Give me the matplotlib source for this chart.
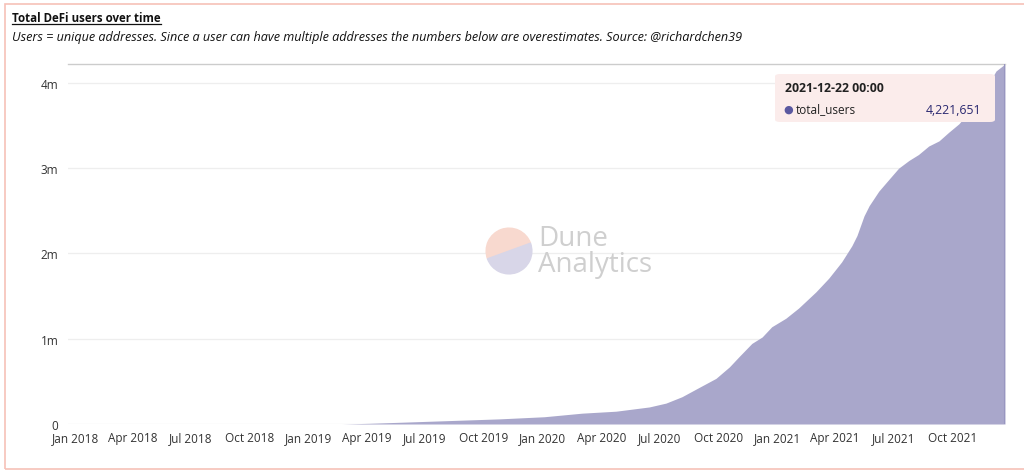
import matplotlib
matplotlib.use("Agg")
import matplotlib.pyplot as plt
import matplotlib.dates as mdates
from matplotlib.patches import Rectangle, FancyBboxPatch, Wedge
import numpy as np
import pandas as pd

plt.rcParams['font.family'] = ['Open Sans', 'DejaVu Sans']

TITLE = "Total DeFi users over time"
SUBTITLE = ("Users = unique addresses. Since a user can have multiple addresses "
            "the numbers below are overestimates. Source: @richardchen39")

# values (cumulative unique addresses)
dates = [
    "2019-02-22", "2019-04-04", "2019-05-22", "2019-08-08", "2019-10-25",
    "2020-01-03", "2020-03-02", "2020-04-24", "2020-06-15", "2020-07-11",
    "2020-08-05", "2020-09-01", "2020-09-27", "2020-10-18", "2020-11-02",
    "2020-11-22", "2020-12-08", "2020-12-23", "2021-01-14", "2021-02-03",
    "2021-03-02", "2021-03-22", "2021-04-11", "2021-04-27", "2021-05-05",
    "2021-05-16", "2021-05-24", "2021-06-08", "2021-06-24", "2021-07-09",
    "2021-07-25", "2021-08-09", "2021-08-25", "2021-09-10", "2021-09-25",
    "2021-10-11", "2021-11-11", "2021-12-08", "2021-12-22",
]
total_users = [
    0, 8000, 20000, 40000, 60000,
    85000, 127000, 150000, 200000, 245000,
    320000, 430000, 535000, 670000, 790000,
    945000, 1020000, 1140000, 1240000, 1360000,
    1550000, 1710000, 1900000, 2090000, 2210000,
    2440000, 2560000, 2730000, 2870000, 3000000,
    3090000, 3160000, 3260000, 3320000, 3420000,
    3520000, 3790000, 4140000, 4221651,
]
y_ticks = [0, 1e6, 2e6, 3e6, 4e6]
y_tick_labels = ["0", "1m", "2m", "3m", "4m"]

x = pd.to_datetime(dates)
y = np.array(total_users)

fig = plt.figure(figsize=(10.24, 4.77), dpi=100)

# card border
fig.patches.append(Rectangle((5 / 1024, 1 - 470 / 477), 1030 / 1024, 465 / 477,
                             transform=fig.transFigure, fill=False,
                             edgecolor="#f6c1b8", linewidth=1.2))

title = fig.text(12 / 1024, 1 - 18 / 477, TITLE, fontsize=8.3, fontweight="bold",
                 color="#111111", va="center")
fig.text(12 / 1024, 1 - 38 / 477, SUBTITLE, fontsize=9.1, style="italic",
         color="#111111", va="center")

# underline under the title, as wide as the title text
fig.canvas.draw()
bb = title.get_window_extent().transformed(fig.transFigure.inverted())
fig.add_artist(plt.Line2D([bb.x0, bb.x1], [1 - 25 / 477, 1 - 25 / 477],
                          color="#111111", linewidth=0.9))

ax = fig.add_axes([68 / 1024, 1 - 425 / 477, 937 / 1024, 360 / 477])
ax.fill_between(x, y, 0, color="#a9a7cb", linewidth=0, zorder=2)
ax.plot([x[-1], x[-1]], [0, y[-1]], color="#9896c0", linewidth=1.5, zorder=3)

ax.set_xlim(pd.Timestamp("2017-12-21"), x[-1])
ax.set_ylim(0, y[-1])

ax.set_yticks(y_ticks)
ax.set_yticklabels(y_tick_labels)
ax.xaxis.set_major_locator(mdates.MonthLocator(bymonth=[1, 4, 7, 10]))
ax.xaxis.set_major_formatter(mdates.DateFormatter("%b %Y"))

ax.tick_params(axis="both", length=0, labelsize=8.5, colors="#333333")
ax.tick_params(axis="x", pad=5)
ax.tick_params(axis="y", pad=7)
ax.grid(axis="y", color="#eeeeee", linewidth=0.9, zorder=0)
for s in ["left", "right", "bottom"]:
    ax.spines[s].set_visible(False)
ax.spines["top"].set_color("#cccccc")
ax.spines["top"].set_linewidth(1)

# watermark
wax = fig.add_axes([485 / 1024, 1 - 276 / 477, 48 / 1024, 48 / 477])
wax.set_aspect("equal")
wax.add_patch(Wedge((0, 0), 1, 20, 200, color="#f8d9cf"))
wax.add_patch(Wedge((0, 0), 1, 200, 380, color="#d8d6e8"))
wax.set_xlim(-1.05, 1.05)
wax.set_ylim(-1.05, 1.05)
wax.axis("off")
fig.text(538 / 1024, 1 - 252 / 477, "Dune\nAnalytics", fontsize=20, color="#cfcfcf",
         va="center", linespacing=0.9)

# tooltip
fig.patches.append(FancyBboxPatch((775 / 1024, 1 - 123 / 477), 220 / 1024, 48 / 477,
                                  boxstyle="round,pad=0,rounding_size=0.005",
                                  transform=fig.transFigure, facecolor="#fbeceb",
                                  edgecolor="none", zorder=5))
fig.text(785 / 1024, 1 - 89 / 477, "2021-12-22 00:00", fontsize=8.8, fontweight="bold",
         color="#222222", va="center", zorder=6)
fig.text(783 / 1024, 1 - 110 / 477, "\u25cf", fontsize=8, color="#5a58a0", va="center", zorder=6)
fig.text(796 / 1024, 1 - 110 / 477, "total_users", fontsize=8.5, color="#222222",
         va="center", zorder=6)
fig.text(981 / 1024, 1 - 110 / 477, "{:,}".format(total_users[-1]), fontsize=8.8,
         color="#2a2870", va="center", ha="right", zorder=6)

fig.savefig("out.png", dpi=100)
